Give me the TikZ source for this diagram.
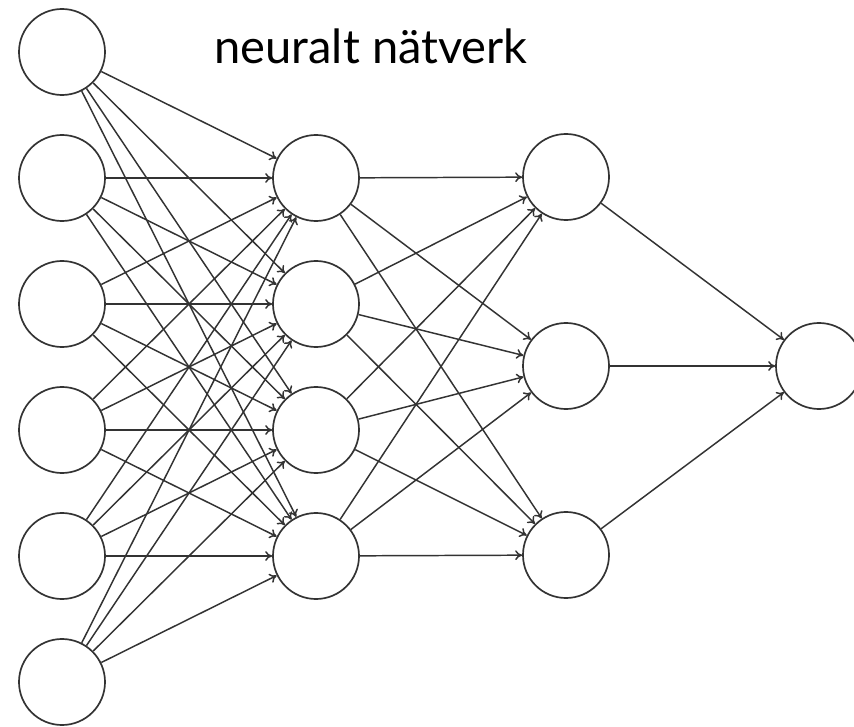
\documentclass[tikz,border=0pt]{standalone}
\usepackage{fontspec}
\setmainfont{Lato}
\usetikzlibrary{arrows.meta}

\begin{document}
\begin{tikzpicture}[x=0.025cm, y=-0.025cm,
  neuron/.style={circle, draw=black!80, line width=1.2pt, minimum size=2.15cm, inner sep=0pt},
  link/.style={draw=black!80, line width=1.05pt, -{To[length=5pt,width=7pt]}},
  heading/.style={font=\fontsize{33.5}{38}\selectfont, anchor=base west, inner sep=0pt}
]
  \useasboundingbox (0,0) rectangle (854,727);
  % input layer
  \node[neuron] (i1) at (62,52) {};
  \node[neuron] (i2) at (62,178) {};
  \node[neuron] (i3) at (62,304) {};
  \node[neuron] (i4) at (62,430) {};
  \node[neuron] (i5) at (62,556) {};
  \node[neuron] (i6) at (62,682) {};
  % hidden layers
  \node[neuron] (h1) at (316,178) {};
  \node[neuron] (h2) at (316,304) {};
  \node[neuron] (h3) at (316,430) {};
  \node[neuron] (h4) at (316,556) {};
  \node[neuron] (g1) at (566,177) {};
  \node[neuron] (g2) at (566,366) {};
  \node[neuron] (g3) at (566,555) {};
  % output
  \node[neuron] (o1) at (819,366) {};
  \node[heading] (head) at (214,64) {neuralt nätverk};
  % connections, layer by layer
  \foreach \a in {1,...,6}
    \foreach \b in {1,...,4}
      \draw[link] (i\a) -- (h\b);
  \foreach \a in {1,...,4}
    \foreach \b in {1,...,3}
      \draw[link] (h\a) -- (g\b);
  \foreach \a in {1,...,3}
    \draw[link] (g\a) -- (o1);
\end{tikzpicture}
\end{document}
